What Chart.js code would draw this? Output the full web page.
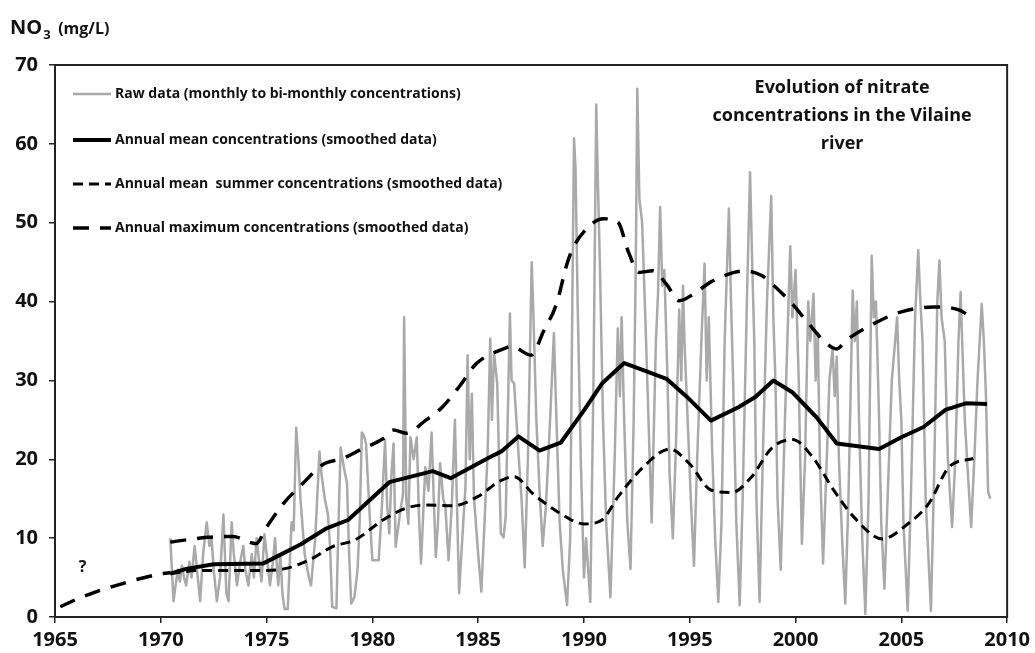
<!DOCTYPE html>
<html>
<head>
<meta charset="utf-8">
<script src="https://cdn.jsdelivr.net/npm/chart.js@4.4.1/dist/chart.umd.min.js"></script>
<style>
html, body { margin: 0; padding: 0; background: #fff; }
#wrap { width: 1035px; height: 653px; position: relative; }
</style>
</head>
<body>
<div id="wrap"><canvas id="no3Chart"></canvas></div>
<script>
// Axis ticks
var xTickValues = [1965, 1970, 1975, 1980, 1985, 1990, 1995, 2000, 2005, 2010];
var yTickValues = [0, 10, 20, 30, 40, 50, 60, 70];

// Raw data (monthly to bi-monthly), [year, mg/L]
var rawData = [
  [1970.45,10],[1970.6,2],[1970.8,6],[1970.9,4.5],[1971.0,6.5],[1971.1,5],[1971.2,4],[1971.35,7],[1971.45,5],[1971.6,9],[1971.75,5],[1971.86,2],
  [1972.0,8],[1972.17,12],[1972.3,9],[1972.4,10],[1972.5,6],[1972.65,2],[1972.8,5],[1972.96,13],[1973.1,3],[1973.2,2],[1973.35,12],[1973.45,8],
  [1973.6,4],[1973.75,7],[1973.9,9],[1974.0,6],[1974.14,4],[1974.3,8],[1974.4,5],[1974.53,10],[1974.65,7],[1974.76,4.5],[1974.9,10.5],[1975.0,8],
  [1975.16,4],[1975.3,7],[1975.4,10],[1975.55,4],[1975.65,8],[1975.75,3],[1975.85,1],[1976.0,1],[1976.18,12],[1976.28,11],[1976.4,24],[1976.5,20],
  [1976.6,15],[1976.8,8],[1977.0,5],[1977.1,4],[1977.3,10],[1977.5,21],[1977.6,18],[1977.75,15],[1977.9,13],[1978.0,9],[1978.1,1.3],[1978.3,1.1],
  [1978.4,12],[1978.5,21.5],[1978.65,19],[1978.8,17],[1978.9,8],[1979.0,1.7],[1979.15,2.5],[1979.3,6],[1979.4,12],[1979.5,23.4],[1979.6,23],[1979.7,22],
  [1979.85,14],[1980.0,7.2],[1980.3,7.2],[1980.45,14],[1980.6,22.4],[1980.7,14],[1980.8,10.6],[1980.9,18],[1981.0,22],[1981.1,8.9],[1981.3,13],[1981.45,15.6],
  [1981.5,38],[1981.6,15],[1981.7,11.8],[1981.8,22.8],[1981.95,20],[1982.1,22.8],[1982.2,13],[1982.3,6.8],[1982.5,19],[1982.65,16],[1982.8,23.4],[1982.9,15],
  [1983.0,7.6],[1983.1,12],[1983.2,19.5],[1983.35,15],[1983.45,14],[1983.6,7.2],[1983.75,14],[1983.9,25],[1984.0,14],[1984.1,3],[1984.25,10],[1984.4,16.5],
  [1984.5,33.2],[1984.6,20],[1984.7,28.3],[1984.8,15.2],[1985.0,8],[1985.15,3.2],[1985.3,12],[1985.45,21],[1985.57,35.3],[1985.65,25],[1985.75,33.5],[1985.9,29.6],
  [1986.07,10.6],[1986.2,10.1],[1986.3,12.7],[1986.5,38.5],[1986.58,30],[1986.7,29.6],[1986.9,21],[1987.05,15],[1987.2,6.3],[1987.35,20],[1987.53,45],[1987.6,39.3],
  [1987.75,25],[1987.9,16],[1988.05,9],[1988.2,14],[1988.4,25],[1988.58,36],[1988.7,25],[1988.85,12],[1989.0,6],[1989.2,1.5],[1989.35,10],[1989.45,40],
  [1989.53,60.7],[1989.6,57],[1989.7,40],[1989.85,20],[1990.0,5],[1990.1,10],[1990.3,1.9],[1990.45,30],[1990.58,65],[1990.66,55],[1990.75,45],[1990.9,25],
  [1991.05,12],[1991.25,2.5],[1991.45,20],[1991.6,36.6],[1991.7,28],[1991.78,38],[1991.9,25],[1992.05,12],[1992.2,6.1],[1992.35,25],[1992.45,45],[1992.52,67],
  [1992.62,53],[1992.75,50],[1992.9,38],[1993.05,25],[1993.2,12],[1993.4,35],[1993.5,41],[1993.6,52],[1993.7,42],[1993.8,44],[1993.95,30],[1994.05,18],[1994.2,10],
  [1994.35,22],[1994.5,39],[1994.6,30],[1994.68,42],[1994.75,35],[1994.9,25],[1995.05,15],[1995.2,6.5],[1995.35,20],[1995.55,35],[1995.7,44.8],[1995.8,30],[1995.9,38],
  [1996.05,22],[1996.2,10],[1996.35,1.9],[1996.5,12],[1996.65,35],[1996.85,51.8],[1996.95,40],[1997.05,30],[1997.2,12],[1997.36,1.5],[1997.5,15],[1997.7,40],
  [1997.85,56.4],[1997.95,45],[1998.05,35],[1998.15,15],[1998.3,1.9],[1998.45,20],[1998.65,40],[1998.85,53.4],[1998.95,38],[1999.05,30],[1999.15,15],[1999.3,6],
  [1999.5,25],[1999.75,47],[1999.85,38],[2000.0,44],[2000.15,30],[2000.3,9.3],[2000.45,20],[2000.6,40],[2000.7,35],[2000.85,41],[2000.95,30],[2001.05,36],
  [2001.15,20],[2001.3,6.8],[2001.45,18],[2001.6,30],[2001.75,34],[2001.85,28],[2001.95,33],[2002.05,20],[2002.2,10],[2002.35,1.7],[2002.5,15],[2002.7,41.4],
  [2002.8,35],[2002.9,40],[2003.0,25],[2003.15,10],[2003.3,0.4],[2003.45,15],[2003.6,45.8],[2003.7,38],[2003.8,40],[2003.95,25],[2004.05,12],[2004.2,3.6],
  [2004.35,15],[2004.55,30],[2004.8,38],[2004.9,30],[2005.0,25],[2005.1,12],[2005.3,0.8],[2005.45,15],[2005.65,38],[2005.8,46.5],[2005.9,40],[2006.0,35],
  [2006.15,15],[2006.4,0.8],[2006.55,18],[2006.7,40],[2006.8,45.2],[2006.9,38],[2007.05,35],[2007.2,20],[2007.4,11.4],[2007.55,20],[2007.7,35],[2007.8,41.2],
  [2007.9,33],[2008.0,25],[2008.15,18],[2008.3,11.4],[2008.45,20],[2008.6,30],[2008.8,39.7],[2008.9,35],[2009.0,28],[2009.1,16],[2009.2,15]
];

// Annual mean concentrations (smoothed)
var meanData = [
  [1970.45,5.5],[1971.2,6.1],[1972.5,6.7],[1974.85,6.8],[1976.6,9.2],[1977.8,11.2],[1978.85,12.3],[1980.8,17.1],[1982.85,18.5],[1983.7,17.6],
  [1985.5,20.2],[1986.1,21.0],[1986.9,22.9],[1987.9,21.1],[1988.9,22.1],[1990.0,26.2],[1990.85,29.6],[1991.9,32.2],[1992.8,31.3],[1993.9,30.2],
  [1994.95,27.7],[1996.0,24.9],[1997.3,26.6],[1998.1,27.9],[1998.95,30.0],[1999.85,28.5],[2001.0,25.3],[2001.95,22.0],[2003.95,21.3],[2005.0,22.8],
  [2006.05,24.1],[2007.1,26.3],[2008.05,27.1],[2009.05,27.0]
];

// Annual mean summer concentrations (smoothed)
var summerData = [
  [1970.45,5.5],[1971.9,5.9],[1974.7,5.9],[1975.8,6.1],[1977.0,7.2],[1978.1,8.9],[1979.2,9.8],[1980.5,12.3],[1981.6,13.8],[1982.5,14.2],
  [1983.8,14.1],[1985.0,15.3],[1986.0,17.2],[1986.7,17.8],[1987.6,15.6],[1988.9,13.1],[1990.0,11.8],[1990.85,12.3],[1991.6,15.2],[1992.8,19.0],
  [1994.05,21.3],[1995.0,19.4],[1996.0,16.1],[1997.0,15.8],[1997.9,17.7],[1998.9,21.5],[1999.85,22.5],[2000.8,20.3],[2001.8,16.1],[2002.75,12.7],
  [2004.1,9.9],[2005.3,11.8],[2006.3,14.4],[2007.25,19.0],[2008.4,20.1]
];

// Annual maximum concentrations (smoothed)
var maxData = [
  [1970.45,9.5],[1972.2,10.1],[1973.4,10.2],[1974.5,9.3],[1975.0,11.4],[1975.8,14.4],[1976.7,16.9],[1977.7,19.4],[1978.6,20.1],[1979.5,21.3],
  [1980.5,22.6],[1981.0,23.7],[1981.6,23.3],[1982.5,24.9],[1983.3,26.6],[1984.1,29.2],[1984.9,32.1],[1986.1,33.9],[1986.6,34.3],[1987.5,33.2],
  [1988.1,36.3],[1988.7,39.7],[1989.2,44.8],[1989.5,46.9],[1990.5,50.1],[1990.9,50.5],[1991.6,50.1],[1992.1,46.3],[1992.6,43.7],[1993.25,43.9],
  [1993.9,42.2],[1994.5,40.1],[1995.2,41.0],[1996.0,42.5],[1997.1,43.7],[1997.6,43.9],[1998.4,43.3],[1998.9,42.2],[1999.85,39.7],[2000.5,37.6],
  [2001.5,34.6],[2001.95,34.0],[2002.4,35.1],[2003.7,37.2],[2005.0,38.7],[2006.5,39.3],[2006.9,39.3],[2007.75,38.9],[2008.3,38.0]
];

// Guessed trend before measurements started
var earlyData = [[1965.25,1.3],[1966.05,2.3],[1967.15,3.4],[1968.7,4.65],[1970.0,5.5],[1970.45,5.6]];

var legendLabels = [
  'Raw data (monthly to bi-monthly concentrations)',
  'Annual mean concentrations (smoothed data)',
  'Annual mean  summer concentrations (smoothed data)',
  'Annual maximum concentrations (smoothed data)'
];
var titleLines = ['Evolution of nitrate', 'concentrations in the Vilaine', 'river'];
var questionMark = { x: 1966.3, y: 6.3, text: '?' };

function toPoints(pairs) {
  return pairs.map(function(p) { return { x: p[0], y: p[1] }; });
}

var FONT = "'Open Sans', 'DejaVu Sans', sans-serif";

// frame + texts drawn over the chart
var overlayPlugin = {
  id: 'overlay',
  afterDraw: function(chart) {
    var ctx = chart.ctx;
    var area = chart.chartArea;
    ctx.save();

    // plot frame
    ctx.strokeStyle = '#222';
    ctx.lineWidth = 2;
    ctx.setLineDash([]);
    ctx.strokeRect(area.left, area.top, area.right - area.left, area.bottom - area.top);

    // y axis title
    ctx.fillStyle = '#111';
    ctx.textBaseline = 'alphabetic';
    ctx.textAlign = 'left';
    ctx.font = 'bold 20px ' + FONT;
    ctx.fillText('NO', 10, 34);
    var w = ctx.measureText('NO').width;
    ctx.font = 'bold 13px ' + FONT;
    ctx.fillText('3', 10 + w + 1, 39);
    ctx.font = 'bold 16px ' + FONT;
    ctx.fillText('(mg/L)', 10 + w + 16, 34);

    // legend inside plot
    var rows = [29, 75, 119, 163];
    var order = [4, 0, 1, 2];
    ctx.textBaseline = 'middle';
    rows.forEach(function(dy, i) {
      var ds = chart.data.datasets[order[i]];
      var y = area.top + dy;
      ctx.beginPath();
      ctx.strokeStyle = ds.borderColor;
      ctx.lineWidth = ds.borderWidth;
      ctx.setLineDash(ds.borderDash || []);
      ctx.moveTo(area.left + 18, y);
      ctx.lineTo(area.left + 56, y);
      ctx.stroke();
      ctx.setLineDash([]);
      ctx.fillStyle = '#111';
      ctx.font = 'bold 14px ' + FONT;
      ctx.fillText(legendLabels[i], area.left + 60, y);
    });

    // title inside plot
    ctx.textAlign = 'center';
    ctx.font = 'bold 18px ' + FONT;
    titleLines.forEach(function(line, i) {
      ctx.fillText(line, area.right - 165, area.top + 23 + i * 28);
    });

    // question mark near the guessed early trend
    var xs = chart.scales.x, ys = chart.scales.y;
    ctx.font = 'bold 16px ' + FONT;
    ctx.fillText(questionMark.text, xs.getPixelForValue(questionMark.x), ys.getPixelForValue(questionMark.y));

    ctx.restore();
  }
};

var ctx = document.getElementById('no3Chart').getContext('2d');
var no3Chart = new Chart(ctx, {
  type: 'line',
  data: {
    datasets: [
      {
        label: legendLabels[1],
        data: toPoints(meanData),
        borderColor: '#000',
        borderWidth: 4,
        tension: 0,
        order: 1
      },
      {
        label: legendLabels[2],
        data: toPoints(summerData),
        borderColor: '#000',
        borderWidth: 3,
        borderDash: [10, 6],
        cubicInterpolationMode: 'monotone',
        order: 2
      },
      {
        label: legendLabels[3],
        data: toPoints(maxData),
        borderColor: '#000',
        borderWidth: 3.5,
        borderDash: [16, 11],
        cubicInterpolationMode: 'monotone',
        order: 3
      },
      {
        label: 'early',
        data: toPoints(earlyData),
        borderColor: '#000',
        borderWidth: 3.5,
        borderDash: [16, 11],
        tension: 0,
        order: 4
      },
      {
        label: legendLabels[0],
        data: toPoints(rawData),
        borderColor: '#a9a9a9',
        borderWidth: 2.5,
        tension: 0,
        order: 5
      }
    ]
  },
  options: {
    responsive: true,
    maintainAspectRatio: false,
    animation: false,
    layout: { padding: { top: 65, right: 27, bottom: 0, left: 0 } },
    elements: { point: { radius: 0, hoverRadius: 0 }, line: { fill: false, borderCapStyle: 'butt', borderJoinStyle: 'round' } },
    plugins: { legend: { display: false }, tooltip: { enabled: false } },
    scales: {
      x: {
        type: 'linear',
        min: 1965,
        max: 2010,
        afterBuildTicks: function(scale) {
          scale.ticks = xTickValues.map(function(v) { return { value: v }; });
        },
        afterFit: function(scale) { scale.height = 36; },
        border: { display: false },
        grid: { display: true, drawOnChartArea: false, drawTicks: true, tickLength: 6, color: '#222', lineWidth: 1.5 },
        ticks: {
          color: '#111',
          padding: 5,
          maxRotation: 0,
          font: { family: FONT, size: 20, weight: 'bold' },
          callback: function(v) { return String(v); }
        }
      },
      y: {
        min: 0,
        max: 70,
        afterBuildTicks: function(scale) {
          scale.ticks = yTickValues.map(function(v) { return { value: v }; });
        },
        afterFit: function(scale) { scale.width = 55; },
        border: { display: false },
        grid: { display: true, drawOnChartArea: false, drawTicks: true, tickLength: 6, color: '#222', lineWidth: 1.5 },
        ticks: {
          color: '#111',
          padding: 11,
          font: { family: FONT, size: 20, weight: 'bold' },
          callback: function(v) { return String(v); }
        }
      }
    }
  },
  plugins: [overlayPlugin]
});
</script>
</body>
</html>
